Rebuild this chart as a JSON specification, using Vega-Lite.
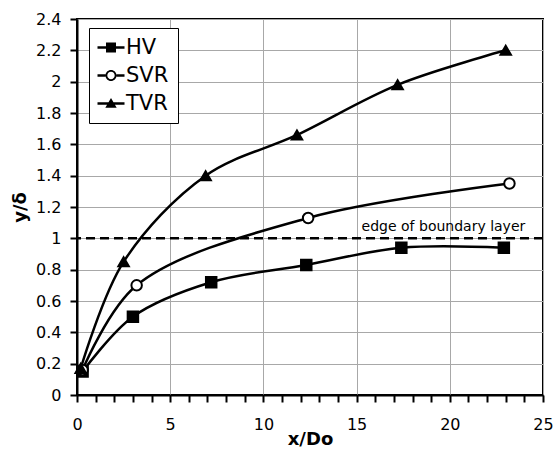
{
  "$schema": "https://vega.github.io/schema/vega-lite/v6.json",
  "autosize": {"type": "none"},
  "width": 466,
  "height": 376,
  "padding": {"left": 77, "top": 19, "right": 12, "bottom": 55},
  "background": "white",
  "config": {
    "font": "DejaVu Sans",
    "view": {"stroke": "black", "strokeWidth": 2},
    "axis": {
      "domainColor": "black",
      "domainWidth": 2,
      "tickColor": "black",
      "tickWidth": 2,
      "tickSize": 7,
      "grid": true,
      "gridColor": "#a8a8a8",
      "gridWidth": 1,
      "labelOverlap": false,
      "labelFont": "DejaVu Sans",
      "labelFontSize": 16,
      "labelColor": "black",
      "titleFont": "DejaVu Sans",
      "titleFontSize": 18,
      "titleFontWeight": "bold",
      "titleColor": "black"
    }
  },
  "datasets": {
    "series": [
      {"series": "HV", "x": 0.3, "y": 0.15},
      {"series": "HV", "x": 3.0, "y": 0.50},
      {"series": "HV", "x": 7.2, "y": 0.72},
      {"series": "HV", "x": 12.3, "y": 0.83},
      {"series": "HV", "x": 17.4, "y": 0.94},
      {"series": "HV", "x": 22.9, "y": 0.94},
      {"series": "SVR", "x": 0.3, "y": 0.16},
      {"series": "SVR", "x": 3.2, "y": 0.70},
      {"series": "SVR", "x": 12.4, "y": 1.13},
      {"series": "SVR", "x": 23.2, "y": 1.35},
      {"series": "TVR", "x": 0.2, "y": 0.17},
      {"series": "TVR", "x": 2.5, "y": 0.85},
      {"series": "TVR", "x": 6.9, "y": 1.40},
      {"series": "TVR", "x": 11.8, "y": 1.66},
      {"series": "TVR", "x": 17.2, "y": 1.98},
      {"series": "TVR", "x": 23.0, "y": 2.20}
    ],
    "boundary": [
      {"y": 1, "xpos": 24.05, "label": "edge of boundary layer"}
    ]
  },
  "layer": [
    {
      "data": {"name": "series"},
      "mark": {"type": "line", "interpolate": "catmull-rom", "color": "black", "strokeWidth": 2.5},
      "encoding": {
        "x": {
          "field": "x", "type": "quantitative",
          "scale": {"domain": [0, 25], "nice": false},
          "axis": {
            "title": "x/Do",
            "tickCount": 40,
            "values": [0,1,2,3,4,5,6,7,8,9,10,11,12,13,14,15,16,17,18,19,20,21,22,23,24,25],
            "format": "~g",
            "labelExpr": "datum.value % 5 === 0 ? datum.label : ''",
            "gridOpacity": {"condition": {"test": "datum.value % 5 === 0", "value": 1}, "value": 0},
            "labelPadding": 14,
            "titlePadding": -2,
            "labelFlush": false
          }
        },
        "y": {
          "field": "y", "type": "quantitative",
          "scale": {"domain": [0, 2.4], "nice": false},
          "axis": {
            "title": "y/δ",
            "tickCount": 20,
            "values": [0, 0.2, 0.4, 0.6, 0.8, 1, 1.2, 1.4, 1.6, 1.8, 2, 2.2, 2.4],
            "format": "~g",
            "labelPadding": 9,
            "titlePadding": 6,
            "labelFlush": false
          }
        },
        "detail": {"field": "series"}
      }
    },
    {
      "data": {"name": "boundary"},
      "mark": {"type": "rule", "color": "black", "strokeWidth": 2.5, "strokeDash": [9, 5]},
      "encoding": {
        "y": {"field": "y", "type": "quantitative"}
      }
    },
    {
      "data": {"name": "boundary"},
      "mark": {"type": "text", "align": "right", "baseline": "alphabetic", "dy": -7, "fontSize": 14, "font": "DejaVu Sans", "color": "black"},
      "encoding": {
        "x": {"field": "xpos", "type": "quantitative"},
        "y": {"field": "y", "type": "quantitative"},
        "text": {"field": "label"}
      }
    },
    {
      "data": {"name": "series"},
      "mark": {"type": "point", "stroke": "black", "strokeWidth": 2, "size": 110, "opacity": 1},
      "encoding": {
        "x": {"field": "x", "type": "quantitative"},
        "y": {"field": "y", "type": "quantitative"},
        "shape": {
          "condition": [
            {"test": "datum.series === 'HV'", "value": "square"},
            {"test": "datum.series === 'SVR'", "value": "circle"}
          ],
          "value": "triangle-up"
        },
        "fill": {
          "condition": {"test": "datum.series === 'SVR'", "value": "white"},
          "value": "black"
        }
      }
    },
    {
      "data": {"name": "series"},
      "transform": [{"filter": "datum.x < -100"}],
      "mark": {"type": "point", "filled": true, "opacity": 1},
      "encoding": {
        "x": {"field": "x", "type": "quantitative"},
        "y": {"field": "y", "type": "quantitative"},
        "shape": {
          "field": "series", "type": "nominal",
          "scale": {
            "domain": ["HV", "SVR", "TVR"],
            "range": [
              "M-1.1,-0.12H1.6V0.12H-1.1ZM-0.25,-0.5H0.75V0.5H-0.25Z",
              "M-1.1,-0.12H-0.3V0.12H-1.1ZM0.8,-0.12H1.6V0.12H0.8ZM-0.3,0A0.55,0.55,0,1,1,0.8,0A0.55,0.55,0,1,1,-0.3,0ZM-0.12,0A0.37,0.37,0,1,0,0.62,0A0.37,0.37,0,1,0,-0.12,0Z",
              "M-1.1,-0.12H1.6V0.12H-1.1ZM0.25,-0.55L0.82,0.42H-0.32Z"
            ]
          },
          "legend": {
            "title": null,
            "orient": "none",
            "legendX": 12,
            "legendY": 9,
            "padding": 9,
            "fillColor": "white",
            "strokeColor": "black",
            "labelFont": "DejaVu Sans",
            "labelFontSize": 21,
            "labelColor": "black",
            "labelOffset": 7,
            "rowPadding": 6,
            "symbolSize": 400,
            "symbolStrokeWidth": 0,
            "symbolOpacity": 1
          }
        },
        "fill": {
          "field": "series", "type": "nominal",
          "scale": {"domain": ["HV", "SVR", "TVR"], "range": ["black", "black", "black"]},
          "legend": null
        }
      }
    }
  ]
}
